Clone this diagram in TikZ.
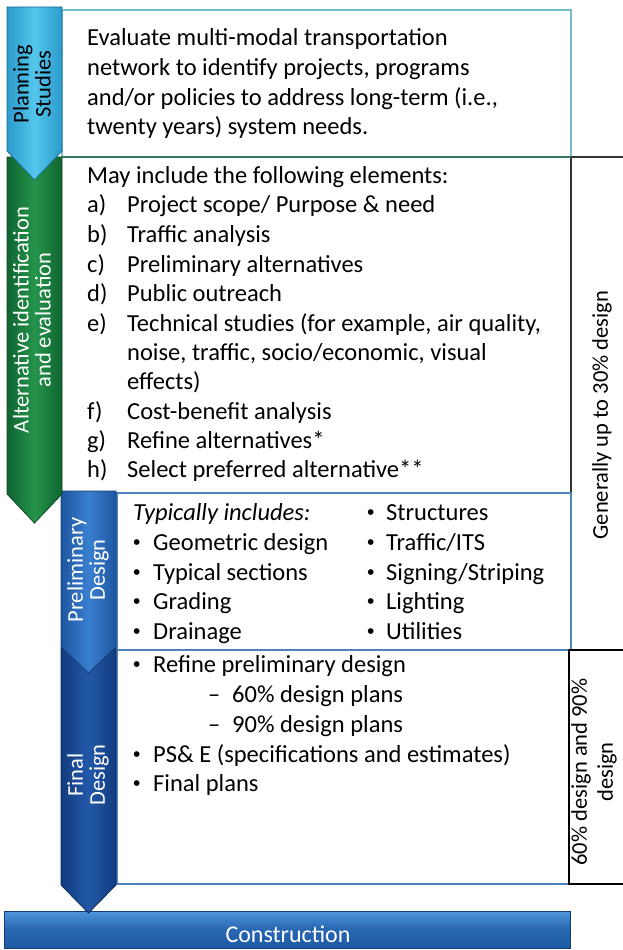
\documentclass[tikz,border=0pt]{standalone}
\usepackage{fontspec}
\setmainfont{Carlito}
\newfontfamily\bulletfont{Liberation Sans}
\definecolor{plEdge}{HTML}{2A9BCB}
\definecolor{plMid}{HTML}{55C6EC}
\definecolor{grEdge}{HTML}{0F6530}
\definecolor{grMid}{HTML}{25944B}
\definecolor{prEdge}{HTML}{1E56A0}
\definecolor{prMid}{HTML}{3A7FCF}
\definecolor{fiEdge}{HTML}{123C7E}
\definecolor{fiMid}{HTML}{2258A9}
\definecolor{coTop}{HTML}{4F95DE}
\definecolor{coBot}{HTML}{1D5AA6}
\definecolor{lineTeal}{HTML}{74BDCC}
\definecolor{lineGreen}{HTML}{2F7A58}
\definecolor{lineDark}{HTML}{333333}
\definecolor{lineBlue}{HTML}{4F81BD}
\tikzset{
  bodytext/.style={font=\fontsize{24.5}{29.5}\selectfont, inner sep=0pt, anchor=base west},
  itext/.style={font=\fontsize{24.5}{29.5}\selectfont\itshape, inner sep=0pt, anchor=base west},
  bullettext/.style={font=\bulletfont\fontsize{21}{29.5}\selectfont, inner sep=0pt, anchor=base west},
  sidelabel/.style={font=\fontsize{22.5}{22}\selectfont, align=center, rotate=90, inner sep=0pt},
  collabel/.style={font=\fontsize{22.5}{26}\selectfont, align=center, rotate=90, inner sep=0pt},
  boxline/.style={line width=1.3pt},
  arrowedge/.style={line width=0.8pt},
}
\newcommand{\phaseshape}[5]{(#1,#3) -- (#2,#3) -- (#2,#4) -- ({(#1+#2)/2},#5) -- (#1,#4) -- cycle}
\begin{document}
\begin{tikzpicture}[x=1pt,y=-1pt]
\useasboundingbox (0,0) rectangle (622,950);
\fill[white] (0,0) rectangle (622,950);

% ---- boxes ----
\draw[boxline, lineTeal] (62,10) rectangle (571,157);
\draw[boxline, lineDark] (571,157) -- (630,157);
\draw[boxline, lineDark] (571,157) -- (571,650) -- (630,650);
\draw[boxline, lineGreen] (62,157) -- (571,157);
\draw[boxline, lineBlue] (117,493) rectangle (571,650);
\draw[boxline, lineBlue] (117,650) rectangle (569,884);
\draw[boxline, black] (630,650) -- (569,650) -- (569,884) -- (630,884);

% ---- construction bar ----
\shade[top color=coTop, bottom color=coBot, middle color=coBot!80!coTop] (4,911) rectangle (570,948);
\draw[line width=0.8pt, coBot!70!black] (4,911) rectangle (570,948);
\node[font=\fontsize{24}{29.5}\selectfont, text=white, anchor=base, inner sep=0pt] (constr) at (288,942) {Construction};

% ---- phase arrows (drawn bottom first) ----
\shade[left color=fiEdge, right color=fiEdge, middle color=fiMid] \phaseshape{61}{116}{648}{885}{913};
\draw[arrowedge, fiEdge!70!black] \phaseshape{61}{116}{648}{885}{913};
\node[sidelabel, text=white] (finallbl) at (88,775) {Final\\Design};

\shade[left color=prEdge, right color=prEdge, middle color=prMid] \phaseshape{61}{116}{491}{647}{673};
\draw[arrowedge, prEdge!70!black] \phaseshape{61}{116}{491}{647}{673};
\node[sidelabel, text=white] (prellbl) at (88,570) {Preliminary\\Design};

\shade[left color=grEdge, right color=grEdge, middle color=grMid] \phaseshape{7}{62}{157}{494}{523};
\draw[arrowedge, grEdge!70!black] \phaseshape{7}{62}{157}{494}{523};
\node[sidelabel, text=white] (altlbl) at (32,320) {Alternative identification\\and evaluation};

\shade[left color=plEdge, right color=plEdge, middle color=plMid] \phaseshape{7}{62}{7}{151}{180};
\draw[arrowedge, plEdge!70!black] \phaseshape{7}{62}{7}{151}{180};
\node[sidelabel, text=black] (planlbl) at (32,84) {Planning\\Studies};

% ---- planning text ----
\node[bodytext] (p1) at (87,46) {Evaluate multi-modal transportation};
\node[bodytext] (p2) at (87,75.5) {network to identify projects, programs};
\node[bodytext] (p3) at (87,105) {and/or policies to address long-term (i.e.,};
\node[bodytext] (p4) at (87,134.5) {twenty years) system needs.};

% ---- alternatives text ----
\node[bodytext] (a0) at (87,183) {May include the following elements:};
\node[bodytext] (la) at (87,212) {a)}; \node[bodytext] (ta) at (127,212) {Project scope/ Purpose \& need};
\node[bodytext] (lb) at (87,242) {b)}; \node[bodytext] (tb) at (127,242) {Traffic analysis};
\node[bodytext] (lc) at (87,272) {c)}; \node[bodytext] (tc) at (127,272) {Preliminary alternatives};
\node[bodytext] (ld) at (87,301) {d)}; \node[bodytext] (td) at (127,301) {Public outreach};
\node[bodytext] (le) at (87,331) {e)}; \node[bodytext] (te) at (127,331) {Technical studies (for example, air quality,};
\node[bodytext] (te2) at (127,360) {noise, traffic, socio/economic, visual};
\node[bodytext] (te3) at (127,389) {effects)};
\node[bodytext] (lf) at (87,419) {f)}; \node[bodytext] (tf) at (127,419) {Cost-benefit analysis};
\node[bodytext] (lg) at (87,448) {g)}; \node[bodytext] (tg) at (127,448) {Refine alternatives*};
\node[bodytext] (lh) at (87,477) {h)}; \node[bodytext] (th) at (127,477) {Select preferred alternative**};

% ---- preliminary design text ----
\node[itext] (r0) at (133,520) {Typically includes:};
\node[bullettext] (b1) at (133,549) {•}; \node[bodytext] (r1) at (153,550) {Geometric design};
\node[bullettext] (b2) at (133,579) {•}; \node[bodytext] (r2) at (153,580) {Typical sections};
\node[bullettext] (b3) at (133,608) {•}; \node[bodytext] (r3) at (153,609) {Grading};
\node[bullettext] (b4) at (133,638) {•}; \node[bodytext] (r4) at (153,639) {Drainage};
\node[bullettext] (c1) at (367,519) {•}; \node[bodytext] (s1) at (386,520) {Structures};
\node[bullettext] (c2) at (367,549) {•}; \node[bodytext] (s2) at (386,550) {Traffic/ITS};
\node[bullettext] (c3) at (367,579) {•}; \node[bodytext] (s3) at (386,580) {Signing/Striping};
\node[bullettext] (c4) at (367,608) {•}; \node[bodytext] (s4) at (386,609) {Lighting};
\node[bullettext] (c5) at (367,638) {•}; \node[bodytext] (s5) at (386,639) {Utilities};

% ---- final design text ----
\node[bullettext] (d1) at (133,671) {•}; \node[bodytext] (f1) at (153,672) {Refine preliminary design};
\node[bodytext] (e1) at (208,702) {–}; \node[bodytext] (f2) at (232,702) {60\% design plans};
\node[bodytext] (e2) at (208,732) {–}; \node[bodytext] (f3) at (232,732) {90\% design plans};
\node[bullettext] (d2) at (133,761) {•}; \node[bodytext] (f4) at (153,762) {PS\& E (specifications and estimates)};
\node[bullettext] (d3) at (133,790) {•}; \node[bodytext] (f5) at (153,791) {Final plans};

% ---- right column labels ----
\node[collabel] (gen30) at (602,415) {Generally up to 30\% design};
\node[collabel] (des6090) at (594,772) {60\% design and 90\%\\design};
\end{tikzpicture}
\end{document}
